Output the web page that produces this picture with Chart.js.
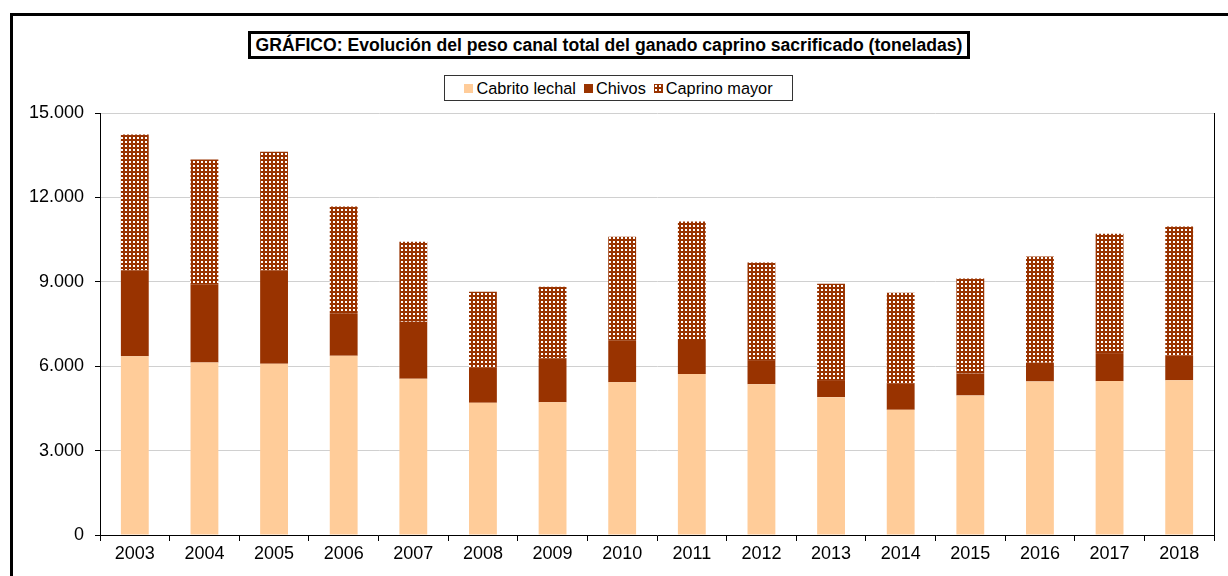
<!DOCTYPE html>
<html>
<head>
<meta charset="utf-8">
<script src="https://cdn.jsdelivr.net/npm/chart.js@4.4.1/dist/chart.umd.min.js"></script>
<style>
    body { margin: 0; width: 1228px; height: 576px; overflow: hidden; background: #fff; position: relative;
           font-family: Arial, "Liberation Sans", sans-serif; color: #000; }
    #frame { position: absolute; left: 10px; top: 13px; width: 1260px; height: 620px; border: 3px solid #000; box-sizing: border-box; }
    #chart { position: absolute; left: 0; top: 0; }
    #title { position: absolute; left: 248px; top: 31px; width: 722px; height: 28px; border: 3px solid #000; box-sizing: border-box;
             font-weight: bold; font-size: 17.6px; line-height: 22px; text-align: center; white-space: nowrap; background: #fff; }
    #legend { position: absolute; left: 444px; top: 75px; width: 349px; height: 26px; border: 1px solid #333; box-sizing: border-box;
              display: flex; justify-content: center; align-items: center; font-size: 16.3px; background: #fff; }
    #legend .item { display: flex; align-items: center; margin: 0 4px; }
    #legend canvas { margin-right: 3px; }
</style>
</head>
<body>
<div id="frame"></div>
<canvas id="chart" width="1228" height="576"></canvas>
<div id="title">GRÁFICO: Evolución del peso canal total del ganado caprino sacrificado (toneladas)</div>
<div id="legend"></div>
<script>
// Years on the x axis
const years = ['2003', '2004', '2005', '2006', '2007', '2008', '2009', '2010',
               '2011', '2012', '2013', '2014', '2015', '2016', '2017', '2018'];

// Tonnes per category (stacked)
const cabritoLechal = [6350, 6130, 6090, 6370, 5550, 4700, 4720, 5430, 5720, 5360, 4900, 4450, 4960, 5460, 5470, 5500];
const chivos        = [3060, 2785, 3320, 1515, 2030, 1265, 1565, 1495, 1210,  855,  605,  945,  785,  665,  995,  870];
const caprinoMayor  = [4825, 4435, 4210, 3795, 2845, 2680, 2540, 3675, 4210, 3475, 3430, 3215, 3370, 3770, 4245, 4600];

const yTicks = [0, 3000, 6000, 9000, 12000, 15000];

const canvas = document.getElementById('chart');
const ctx = canvas.getContext('2d');

// brown with white dots, like the Excel fill
function dottedPattern(context) {
    const c = document.createElement('canvas');
    c.width = 4;
    c.height = 4;
    const g = c.getContext('2d');
    g.fillStyle = '#993300';
    g.fillRect(0, 0, 4, 4);
    g.fillStyle = '#ffffff';
    g.fillRect(1, 1, 2, 2);
    return context.createPattern(c, 'repeat');
}

const mayorFill = dottedPattern(ctx);

const fmt = v => String(v).replace(/\B(?=(\d{3})+(?!\d))/g, '.');

const plotBorder = {
    id: 'plotBorder',
    afterDraw(chart) {
        const a = chart.chartArea;
        const c = chart.ctx;
        c.save();
        c.strokeStyle = '#000';
        c.lineWidth = 1;
        c.beginPath();
        c.moveTo(Math.round(a.right) + 0.5, a.top);
        c.lineTo(Math.round(a.right) + 0.5, a.bottom);
        c.stroke();
        c.restore();
    }
};

const chart = new Chart(ctx, {
    type: 'bar',
    data: {
        labels: years,
        datasets: [
            { label: 'Cabrito lechal', data: cabritoLechal, backgroundColor: '#FFCC99' },
            { label: 'Chivos', data: chivos, backgroundColor: '#993300' },
            { label: 'Caprino mayor', data: caprinoMayor, backgroundColor: mayorFill }
        ]
    },
    options: {
        responsive: false,
        animation: false,
        datasets: {
            bar: { barPercentage: 0.4, categoryPercentage: 1, borderWidth: 0 }
        },
        layout: { padding: { left: 0, right: 14, top: 113, bottom: 0 } },
        plugins: {
            legend: { display: false },
            tooltip: { enabled: false }
        },
        scales: {
            x: {
                stacked: true,
                afterFit: s => { s.height = 41; },
                grid: { offset: true, drawOnChartArea: false, color: '#000', tickLength: 6 },
                border: { color: '#000' },
                ticks: { color: '#000', font: { family: 'Arial', size: 18 }, padding: 2 }
            },
            y: {
                stacked: true,
                min: 0,
                max: 15000,
                afterFit: s => { s.width = 100; },
                afterBuildTicks: s => { s.ticks = yTicks.map(v => ({ value: v })); },
                grid: { color: '#d0d0d0', tickColor: '#000', tickLength: 5 },
                border: { color: '#000' },
                ticks: { color: '#000', font: { family: 'Arial', size: 18 }, padding: 11, callback: v => fmt(v) }
            }
        }
    },
    plugins: [plotBorder]
});

// legend built from the datasets
const legend = document.getElementById('legend');
chart.data.datasets.forEach(ds => {
    const item = document.createElement('div');
    item.className = 'item';
    const sw = document.createElement('canvas');
    sw.width = 9;
    sw.height = 9;
    const sc = sw.getContext('2d');
    sc.fillStyle = ds.backgroundColor === mayorFill ? dottedPattern(sc) : ds.backgroundColor;
    sc.fillRect(0, 0, 9, 9);
    const label = document.createElement('span');
    label.textContent = ds.label;
    item.appendChild(sw);
    item.appendChild(label);
    legend.appendChild(item);
});
</script>
</body>
</html>
